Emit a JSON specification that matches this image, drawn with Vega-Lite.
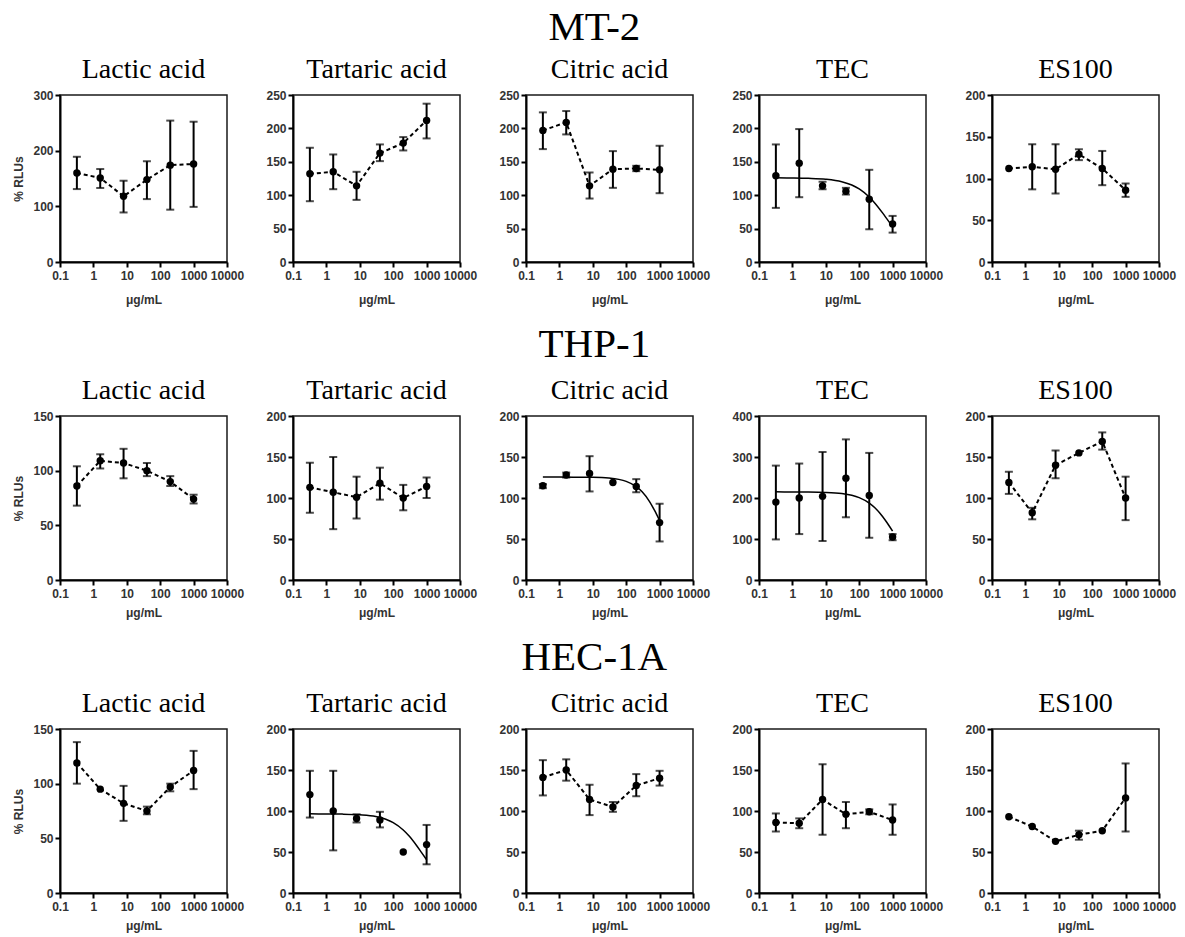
{
  "$schema": "https://vega.github.io/schema/vega-lite/v6.json",
  "padding": {"left": 12, "top": 7, "right": 5, "bottom": 3},
  "background": "white",
  "datasets": {
    "measured": [
      {"cell": "MT-2", "drug": "Lactic acid", "conc": 0.32, "mean": 160, "lo": 131, "hi": 189},
      {"cell": "MT-2", "drug": "Lactic acid", "conc": 1.6, "mean": 151, "lo": 133, "hi": 167},
      {"cell": "MT-2", "drug": "Lactic acid", "conc": 8, "mean": 118, "lo": 89, "hi": 146},
      {"cell": "MT-2", "drug": "Lactic acid", "conc": 40, "mean": 148, "lo": 113, "hi": 181},
      {"cell": "MT-2", "drug": "Lactic acid", "conc": 200, "mean": 174, "lo": 94, "hi": 254},
      {"cell": "MT-2", "drug": "Lactic acid", "conc": 1000, "mean": 176, "lo": 99, "hi": 252},
      {"cell": "MT-2", "drug": "Tartaric acid", "conc": 0.32, "mean": 132, "lo": 91, "hi": 171},
      {"cell": "MT-2", "drug": "Tartaric acid", "conc": 1.6, "mean": 135, "lo": 109, "hi": 161},
      {"cell": "MT-2", "drug": "Tartaric acid", "conc": 8, "mean": 114, "lo": 93, "hi": 135},
      {"cell": "MT-2", "drug": "Tartaric acid", "conc": 40, "mean": 163, "lo": 151, "hi": 176},
      {"cell": "MT-2", "drug": "Tartaric acid", "conc": 200, "mean": 178, "lo": 167, "hi": 187},
      {"cell": "MT-2", "drug": "Tartaric acid", "conc": 1000, "mean": 212, "lo": 185, "hi": 237},
      {"cell": "MT-2", "drug": "Citric acid", "conc": 0.32, "mean": 197, "lo": 169, "hi": 224},
      {"cell": "MT-2", "drug": "Citric acid", "conc": 1.6, "mean": 209, "lo": 191, "hi": 226},
      {"cell": "MT-2", "drug": "Citric acid", "conc": 8, "mean": 114, "lo": 95, "hi": 134},
      {"cell": "MT-2", "drug": "Citric acid", "conc": 40, "mean": 139, "lo": 111, "hi": 166},
      {"cell": "MT-2", "drug": "Citric acid", "conc": 200, "mean": 140, "lo": 136, "hi": 144},
      {"cell": "MT-2", "drug": "Citric acid", "conc": 1000, "mean": 138, "lo": 103, "hi": 174},
      {"cell": "MT-2", "drug": "TEC", "conc": 0.32, "mean": 129, "lo": 81, "hi": 176},
      {"cell": "MT-2", "drug": "TEC", "conc": 1.6, "mean": 148, "lo": 97, "hi": 199},
      {"cell": "MT-2", "drug": "TEC", "conc": 8, "mean": 114, "lo": 109, "hi": 120},
      {"cell": "MT-2", "drug": "TEC", "conc": 40, "mean": 106, "lo": 101, "hi": 111},
      {"cell": "MT-2", "drug": "TEC", "conc": 200, "mean": 94, "lo": 49, "hi": 138},
      {"cell": "MT-2", "drug": "TEC", "conc": 1000, "mean": 57, "lo": 44, "hi": 69},
      {"cell": "MT-2", "drug": "ES100", "conc": 0.32, "mean": 112, "lo": null, "hi": null},
      {"cell": "MT-2", "drug": "ES100", "conc": 1.6, "mean": 114, "lo": 87, "hi": 141},
      {"cell": "MT-2", "drug": "ES100", "conc": 8, "mean": 111, "lo": 82, "hi": 141},
      {"cell": "MT-2", "drug": "ES100", "conc": 40, "mean": 129, "lo": 122, "hi": 135},
      {"cell": "MT-2", "drug": "ES100", "conc": 200, "mean": 112, "lo": 92, "hi": 133},
      {"cell": "MT-2", "drug": "ES100", "conc": 1000, "mean": 86, "lo": 78, "hi": 94},
      {"cell": "THP-1", "drug": "Lactic acid", "conc": 0.32, "mean": 86, "lo": 68, "hi": 104},
      {"cell": "THP-1", "drug": "Lactic acid", "conc": 1.6, "mean": 109, "lo": 102, "hi": 115},
      {"cell": "THP-1", "drug": "Lactic acid", "conc": 8, "mean": 107, "lo": 93, "hi": 120},
      {"cell": "THP-1", "drug": "Lactic acid", "conc": 40, "mean": 100, "lo": 95, "hi": 107},
      {"cell": "THP-1", "drug": "Lactic acid", "conc": 200, "mean": 90, "lo": 86, "hi": 95},
      {"cell": "THP-1", "drug": "Lactic acid", "conc": 1000, "mean": 74, "lo": 70, "hi": 78},
      {"cell": "THP-1", "drug": "Tartaric acid", "conc": 0.32, "mean": 113, "lo": 82, "hi": 143},
      {"cell": "THP-1", "drug": "Tartaric acid", "conc": 1.6, "mean": 107, "lo": 62, "hi": 150},
      {"cell": "THP-1", "drug": "Tartaric acid", "conc": 8, "mean": 101, "lo": 75, "hi": 126},
      {"cell": "THP-1", "drug": "Tartaric acid", "conc": 40, "mean": 118, "lo": 98, "hi": 137},
      {"cell": "THP-1", "drug": "Tartaric acid", "conc": 200, "mean": 100, "lo": 85, "hi": 116},
      {"cell": "THP-1", "drug": "Tartaric acid", "conc": 1000, "mean": 114, "lo": 100, "hi": 125},
      {"cell": "THP-1", "drug": "Citric acid", "conc": 0.32, "mean": 115, "lo": 112, "hi": 117},
      {"cell": "THP-1", "drug": "Citric acid", "conc": 1.6, "mean": 128, "lo": 125, "hi": 131},
      {"cell": "THP-1", "drug": "Citric acid", "conc": 8, "mean": 130, "lo": 108, "hi": 151},
      {"cell": "THP-1", "drug": "Citric acid", "conc": 40, "mean": 119, "lo": null, "hi": null},
      {"cell": "THP-1", "drug": "Citric acid", "conc": 200, "mean": 114, "lo": 107, "hi": 123},
      {"cell": "THP-1", "drug": "Citric acid", "conc": 1000, "mean": 70, "lo": 47, "hi": 93},
      {"cell": "THP-1", "drug": "TEC", "conc": 0.32, "mean": 190, "lo": 99, "hi": 279},
      {"cell": "THP-1", "drug": "TEC", "conc": 1.6, "mean": 200, "lo": 112, "hi": 284},
      {"cell": "THP-1", "drug": "TEC", "conc": 8, "mean": 204, "lo": 95, "hi": 312},
      {"cell": "THP-1", "drug": "TEC", "conc": 40, "mean": 248, "lo": 153, "hi": 343},
      {"cell": "THP-1", "drug": "TEC", "conc": 200, "mean": 206, "lo": 103, "hi": 310},
      {"cell": "THP-1", "drug": "TEC", "conc": 1000, "mean": 105, "lo": 97, "hi": 112},
      {"cell": "THP-1", "drug": "ES100", "conc": 0.32, "mean": 119, "lo": 105, "hi": 132},
      {"cell": "THP-1", "drug": "ES100", "conc": 1.6, "mean": 82, "lo": 74, "hi": 88},
      {"cell": "THP-1", "drug": "ES100", "conc": 8, "mean": 140, "lo": 124, "hi": 158},
      {"cell": "THP-1", "drug": "ES100", "conc": 40, "mean": 155, "lo": null, "hi": null},
      {"cell": "THP-1", "drug": "ES100", "conc": 200, "mean": 169, "lo": 159, "hi": 180},
      {"cell": "THP-1", "drug": "ES100", "conc": 1000, "mean": 100, "lo": 73, "hi": 126},
      {"cell": "HEC-1A", "drug": "Lactic acid", "conc": 0.32, "mean": 119, "lo": 100, "hi": 138},
      {"cell": "HEC-1A", "drug": "Lactic acid", "conc": 1.6, "mean": 95, "lo": null, "hi": null},
      {"cell": "HEC-1A", "drug": "Lactic acid", "conc": 8, "mean": 82, "lo": 66, "hi": 98},
      {"cell": "HEC-1A", "drug": "Lactic acid", "conc": 40, "mean": 75, "lo": 72, "hi": 79},
      {"cell": "HEC-1A", "drug": "Lactic acid", "conc": 200, "mean": 97, "lo": 93, "hi": 100},
      {"cell": "HEC-1A", "drug": "Lactic acid", "conc": 1000, "mean": 112, "lo": 95, "hi": 130},
      {"cell": "HEC-1A", "drug": "Tartaric acid", "conc": 0.32, "mean": 120, "lo": 92, "hi": 149},
      {"cell": "HEC-1A", "drug": "Tartaric acid", "conc": 1.6, "mean": 100, "lo": 52, "hi": 149},
      {"cell": "HEC-1A", "drug": "Tartaric acid", "conc": 8, "mean": 91, "lo": 86, "hi": 96},
      {"cell": "HEC-1A", "drug": "Tartaric acid", "conc": 40, "mean": 89, "lo": 80, "hi": 99},
      {"cell": "HEC-1A", "drug": "Tartaric acid", "conc": 200, "mean": 50, "lo": null, "hi": null},
      {"cell": "HEC-1A", "drug": "Tartaric acid", "conc": 1000, "mean": 59, "lo": 35, "hi": 83},
      {"cell": "HEC-1A", "drug": "Citric acid", "conc": 0.32, "mean": 141, "lo": 119, "hi": 162},
      {"cell": "HEC-1A", "drug": "Citric acid", "conc": 1.6, "mean": 150, "lo": 137, "hi": 163},
      {"cell": "HEC-1A", "drug": "Citric acid", "conc": 8, "mean": 114, "lo": 95, "hi": 132},
      {"cell": "HEC-1A", "drug": "Citric acid", "conc": 40, "mean": 105, "lo": 99, "hi": 111},
      {"cell": "HEC-1A", "drug": "Citric acid", "conc": 200, "mean": 131, "lo": 118, "hi": 145},
      {"cell": "HEC-1A", "drug": "Citric acid", "conc": 1000, "mean": 140, "lo": 131, "hi": 149},
      {"cell": "HEC-1A", "drug": "TEC", "conc": 0.32, "mean": 86, "lo": 75, "hi": 97},
      {"cell": "HEC-1A", "drug": "TEC", "conc": 1.6, "mean": 85, "lo": 79, "hi": 91},
      {"cell": "HEC-1A", "drug": "TEC", "conc": 8, "mean": 114, "lo": 71, "hi": 157},
      {"cell": "HEC-1A", "drug": "TEC", "conc": 40, "mean": 96, "lo": 79, "hi": 111},
      {"cell": "HEC-1A", "drug": "TEC", "conc": 200, "mean": 99, "lo": 96, "hi": 102},
      {"cell": "HEC-1A", "drug": "TEC", "conc": 1000, "mean": 89, "lo": 71, "hi": 108},
      {"cell": "HEC-1A", "drug": "ES100", "conc": 0.32, "mean": 93, "lo": null, "hi": null},
      {"cell": "HEC-1A", "drug": "ES100", "conc": 1.6, "mean": 81, "lo": null, "hi": null},
      {"cell": "HEC-1A", "drug": "ES100", "conc": 8, "mean": 63, "lo": null, "hi": null},
      {"cell": "HEC-1A", "drug": "ES100", "conc": 40, "mean": 71, "lo": 65, "hi": 76},
      {"cell": "HEC-1A", "drug": "ES100", "conc": 200, "mean": 76, "lo": null, "hi": null},
      {"cell": "HEC-1A", "drug": "ES100", "conc": 1000, "mean": 116, "lo": 75, "hi": 158}
    ],
    "fit": [
      {"cell": "MT-2", "drug": "TEC", "conc": 0.32, "fit": 126},
      {"cell": "MT-2", "drug": "TEC", "conc": 1, "fit": 125.8},
      {"cell": "MT-2", "drug": "TEC", "conc": 3, "fit": 125.3},
      {"cell": "MT-2", "drug": "TEC", "conc": 10, "fit": 123.9},
      {"cell": "MT-2", "drug": "TEC", "conc": 30, "fit": 120.2},
      {"cell": "MT-2", "drug": "TEC", "conc": 60, "fit": 115.3},
      {"cell": "MT-2", "drug": "TEC", "conc": 100, "fit": 109.4},
      {"cell": "MT-2", "drug": "TEC", "conc": 200, "fit": 97.2},
      {"cell": "MT-2", "drug": "TEC", "conc": 300, "fit": 87.7},
      {"cell": "MT-2", "drug": "TEC", "conc": 500, "fit": 73.5},
      {"cell": "MT-2", "drug": "TEC", "conc": 700, "fit": 63.4},
      {"cell": "MT-2", "drug": "TEC", "conc": 1000, "fit": 52.7},
      {"cell": "THP-1", "drug": "Citric acid", "conc": 0.32, "fit": 125.5},
      {"cell": "THP-1", "drug": "Citric acid", "conc": 1, "fit": 125.5},
      {"cell": "THP-1", "drug": "Citric acid", "conc": 3, "fit": 125.4},
      {"cell": "THP-1", "drug": "Citric acid", "conc": 10, "fit": 125.2},
      {"cell": "THP-1", "drug": "Citric acid", "conc": 30, "fit": 124.3},
      {"cell": "THP-1", "drug": "Citric acid", "conc": 60, "fit": 122.7},
      {"cell": "THP-1", "drug": "Citric acid", "conc": 100, "fit": 120.3},
      {"cell": "THP-1", "drug": "Citric acid", "conc": 200, "fit": 113.9},
      {"cell": "THP-1", "drug": "Citric acid", "conc": 300, "fit": 107.5},
      {"cell": "THP-1", "drug": "Citric acid", "conc": 500, "fit": 95.6},
      {"cell": "THP-1", "drug": "Citric acid", "conc": 700, "fit": 85.1},
      {"cell": "THP-1", "drug": "Citric acid", "conc": 1000, "fit": 72.4},
      {"cell": "THP-1", "drug": "TEC", "conc": 0.32, "fit": 215},
      {"cell": "THP-1", "drug": "TEC", "conc": 1, "fit": 214.8},
      {"cell": "THP-1", "drug": "TEC", "conc": 3, "fit": 214.6},
      {"cell": "THP-1", "drug": "TEC", "conc": 10, "fit": 213.7},
      {"cell": "THP-1", "drug": "TEC", "conc": 30, "fit": 210.9},
      {"cell": "THP-1", "drug": "TEC", "conc": 60, "fit": 206.6},
      {"cell": "THP-1", "drug": "TEC", "conc": 100, "fit": 200.9},
      {"cell": "THP-1", "drug": "TEC", "conc": 200, "fit": 187.5},
      {"cell": "THP-1", "drug": "TEC", "conc": 300, "fit": 175.5},
      {"cell": "THP-1", "drug": "TEC", "conc": 500, "fit": 155},
      {"cell": "THP-1", "drug": "TEC", "conc": 700, "fit": 138.4},
      {"cell": "THP-1", "drug": "TEC", "conc": 1000, "fit": 119},
      {"cell": "HEC-1A", "drug": "Tartaric acid", "conc": 0.32, "fit": 96.5},
      {"cell": "HEC-1A", "drug": "Tartaric acid", "conc": 1, "fit": 96.4},
      {"cell": "HEC-1A", "drug": "Tartaric acid", "conc": 3, "fit": 96.2},
      {"cell": "HEC-1A", "drug": "Tartaric acid", "conc": 10, "fit": 95.4},
      {"cell": "HEC-1A", "drug": "Tartaric acid", "conc": 30, "fit": 93.3},
      {"cell": "HEC-1A", "drug": "Tartaric acid", "conc": 60, "fit": 90},
      {"cell": "HEC-1A", "drug": "Tartaric acid", "conc": 100, "fit": 85.9},
      {"cell": "HEC-1A", "drug": "Tartaric acid", "conc": 200, "fit": 76.9},
      {"cell": "HEC-1A", "drug": "Tartaric acid", "conc": 300, "fit": 69.5},
      {"cell": "HEC-1A", "drug": "Tartaric acid", "conc": 500, "fit": 58},
      {"cell": "HEC-1A", "drug": "Tartaric acid", "conc": 700, "fit": 49.6},
      {"cell": "HEC-1A", "drug": "Tartaric acid", "conc": 1000, "fit": 40.6}
    ]
  },
  "spacing": 18,
  "vconcat": [
    {
      "title": {"text": "MT-2", "fontSize": 41, "anchor": "middle", "offset": 6},
      "spacing": 20,
      "hconcat": [
        {"title": "Lactic acid", "width": 167, "height": 167, "data": {"name": "measured"},
         "transform": [{"filter": "datum.cell === 'MT-2' && datum.drug === 'Lactic acid'"}],
         "encoding": {"x": {"field": "conc", "type": "quantitative", "scale": {"type": "log", "domain": [0.1, 10000], "nice": false}, "axis": {"values": [0.1, 1, 10, 100, 1000, 10000], "labelExpr": "datum.value < 1 ? '0.1' : format(datum.value, 'd')", "title": "μg/mL", "titlePadding": 13}}},
         "layer": [
          {"mark": {"type": "line", "color": "#000", "strokeWidth": 2, "strokeDash": [4, 3]}, "encoding": {"y": {"field": "mean", "type": "quantitative", "scale": {"domain": [0, 300], "nice": false}, "title": "% RLUs"}}},
          {"mark": {"type": "rule", "color": "#000", "strokeWidth": 2}, "encoding": {"y": {"field": "lo", "type": "quantitative", "scale": {"domain": [0, 300], "nice": false}, "title": "% RLUs"}, "y2": {"field": "hi"}}},
          {"mark": {"type": "tick", "orient": "horizontal", "color": "#000", "size": 8, "thickness": 2}, "encoding": {"y": {"field": "lo", "type": "quantitative", "scale": {"domain": [0, 300], "nice": false}, "title": "% RLUs"}}},
          {"mark": {"type": "tick", "orient": "horizontal", "color": "#000", "size": 8, "thickness": 2}, "encoding": {"y": {"field": "hi", "type": "quantitative", "scale": {"domain": [0, 300], "nice": false}, "title": "% RLUs"}}},
          {"mark": {"type": "circle", "color": "#000", "size": 55, "opacity": 1}, "encoding": {"y": {"field": "mean", "type": "quantitative", "scale": {"domain": [0, 300], "nice": false}, "title": "% RLUs"}}}
         ]},
        {"title": "Tartaric acid", "width": 167, "height": 167, "data": {"name": "measured"},
         "transform": [{"filter": "datum.cell === 'MT-2' && datum.drug === 'Tartaric acid'"}],
         "encoding": {"x": {"field": "conc", "type": "quantitative", "scale": {"type": "log", "domain": [0.1, 10000], "nice": false}, "axis": {"values": [0.1, 1, 10, 100, 1000, 10000], "labelExpr": "datum.value < 1 ? '0.1' : format(datum.value, 'd')", "title": "μg/mL", "titlePadding": 13}}},
         "layer": [
          {"mark": {"type": "line", "color": "#000", "strokeWidth": 2, "strokeDash": [4, 3]}, "encoding": {"y": {"field": "mean", "type": "quantitative", "scale": {"domain": [0, 250], "nice": false}, "title": null}}},
          {"mark": {"type": "rule", "color": "#000", "strokeWidth": 2}, "encoding": {"y": {"field": "lo", "type": "quantitative", "scale": {"domain": [0, 250], "nice": false}, "title": null}, "y2": {"field": "hi"}}},
          {"mark": {"type": "tick", "orient": "horizontal", "color": "#000", "size": 8, "thickness": 2}, "encoding": {"y": {"field": "lo", "type": "quantitative", "scale": {"domain": [0, 250], "nice": false}, "title": null}}},
          {"mark": {"type": "tick", "orient": "horizontal", "color": "#000", "size": 8, "thickness": 2}, "encoding": {"y": {"field": "hi", "type": "quantitative", "scale": {"domain": [0, 250], "nice": false}, "title": null}}},
          {"mark": {"type": "circle", "color": "#000", "size": 55, "opacity": 1}, "encoding": {"y": {"field": "mean", "type": "quantitative", "scale": {"domain": [0, 250], "nice": false}, "title": null}}}
         ]},
        {"title": "Citric acid", "width": 167, "height": 167, "data": {"name": "measured"},
         "transform": [{"filter": "datum.cell === 'MT-2' && datum.drug === 'Citric acid'"}],
         "encoding": {"x": {"field": "conc", "type": "quantitative", "scale": {"type": "log", "domain": [0.1, 10000], "nice": false}, "axis": {"values": [0.1, 1, 10, 100, 1000, 10000], "labelExpr": "datum.value < 1 ? '0.1' : format(datum.value, 'd')", "title": "μg/mL", "titlePadding": 13}}},
         "layer": [
          {"mark": {"type": "line", "color": "#000", "strokeWidth": 2, "strokeDash": [4, 3]}, "encoding": {"y": {"field": "mean", "type": "quantitative", "scale": {"domain": [0, 250], "nice": false}, "title": null}}},
          {"mark": {"type": "rule", "color": "#000", "strokeWidth": 2}, "encoding": {"y": {"field": "lo", "type": "quantitative", "scale": {"domain": [0, 250], "nice": false}, "title": null}, "y2": {"field": "hi"}}},
          {"mark": {"type": "tick", "orient": "horizontal", "color": "#000", "size": 8, "thickness": 2}, "encoding": {"y": {"field": "lo", "type": "quantitative", "scale": {"domain": [0, 250], "nice": false}, "title": null}}},
          {"mark": {"type": "tick", "orient": "horizontal", "color": "#000", "size": 8, "thickness": 2}, "encoding": {"y": {"field": "hi", "type": "quantitative", "scale": {"domain": [0, 250], "nice": false}, "title": null}}},
          {"mark": {"type": "circle", "color": "#000", "size": 55, "opacity": 1}, "encoding": {"y": {"field": "mean", "type": "quantitative", "scale": {"domain": [0, 250], "nice": false}, "title": null}}}
         ]},
        {"title": "TEC", "width": 167, "height": 167, "data": {"name": "measured"},
         "transform": [{"filter": "datum.cell === 'MT-2' && datum.drug === 'TEC'"}],
         "encoding": {"x": {"field": "conc", "type": "quantitative", "scale": {"type": "log", "domain": [0.1, 10000], "nice": false}, "axis": {"values": [0.1, 1, 10, 100, 1000, 10000], "labelExpr": "datum.value < 1 ? '0.1' : format(datum.value, 'd')", "title": "μg/mL", "titlePadding": 13}}},
         "layer": [
          {"data": {"name": "fit"}, "transform": [{"filter": "datum.cell === 'MT-2' && datum.drug === 'TEC'"}], "mark": {"type": "line", "color": "#000", "strokeWidth": 1.5, "interpolate": "monotone"}, "encoding": {"y": {"field": "fit", "type": "quantitative", "scale": {"domain": [0, 250], "nice": false}, "title": null}}},
          {"mark": {"type": "rule", "color": "#000", "strokeWidth": 2}, "encoding": {"y": {"field": "lo", "type": "quantitative", "scale": {"domain": [0, 250], "nice": false}, "title": null}, "y2": {"field": "hi"}}},
          {"mark": {"type": "tick", "orient": "horizontal", "color": "#000", "size": 8, "thickness": 2}, "encoding": {"y": {"field": "lo", "type": "quantitative", "scale": {"domain": [0, 250], "nice": false}, "title": null}}},
          {"mark": {"type": "tick", "orient": "horizontal", "color": "#000", "size": 8, "thickness": 2}, "encoding": {"y": {"field": "hi", "type": "quantitative", "scale": {"domain": [0, 250], "nice": false}, "title": null}}},
          {"mark": {"type": "circle", "color": "#000", "size": 55, "opacity": 1}, "encoding": {"y": {"field": "mean", "type": "quantitative", "scale": {"domain": [0, 250], "nice": false}, "title": null}}}
         ]},
        {"title": "ES100", "width": 167, "height": 167, "data": {"name": "measured"},
         "transform": [{"filter": "datum.cell === 'MT-2' && datum.drug === 'ES100'"}],
         "encoding": {"x": {"field": "conc", "type": "quantitative", "scale": {"type": "log", "domain": [0.1, 10000], "nice": false}, "axis": {"values": [0.1, 1, 10, 100, 1000, 10000], "labelExpr": "datum.value < 1 ? '0.1' : format(datum.value, 'd')", "title": "μg/mL", "titlePadding": 13}}},
         "layer": [
          {"mark": {"type": "line", "color": "#000", "strokeWidth": 2, "strokeDash": [4, 3]}, "encoding": {"y": {"field": "mean", "type": "quantitative", "scale": {"domain": [0, 200], "nice": false}, "title": null}}},
          {"mark": {"type": "rule", "color": "#000", "strokeWidth": 2}, "encoding": {"y": {"field": "lo", "type": "quantitative", "scale": {"domain": [0, 200], "nice": false}, "title": null}, "y2": {"field": "hi"}}},
          {"mark": {"type": "tick", "orient": "horizontal", "color": "#000", "size": 8, "thickness": 2}, "encoding": {"y": {"field": "lo", "type": "quantitative", "scale": {"domain": [0, 200], "nice": false}, "title": null}}},
          {"mark": {"type": "tick", "orient": "horizontal", "color": "#000", "size": 8, "thickness": 2}, "encoding": {"y": {"field": "hi", "type": "quantitative", "scale": {"domain": [0, 200], "nice": false}, "title": null}}},
          {"mark": {"type": "circle", "color": "#000", "size": 55, "opacity": 1}, "encoding": {"y": {"field": "mean", "type": "quantitative", "scale": {"domain": [0, 200], "nice": false}, "title": null}}}
         ]}
      ]
    },
    {
      "title": {"text": "THP-1", "fontSize": 41, "anchor": "middle", "offset": 10},
      "spacing": 20,
      "hconcat": [
        {"title": "Lactic acid", "width": 167, "height": 164, "data": {"name": "measured"},
         "transform": [{"filter": "datum.cell === 'THP-1' && datum.drug === 'Lactic acid'"}],
         "encoding": {"x": {"field": "conc", "type": "quantitative", "scale": {"type": "log", "domain": [0.1, 10000], "nice": false}, "axis": {"values": [0.1, 1, 10, 100, 1000, 10000], "labelExpr": "datum.value < 1 ? '0.1' : format(datum.value, 'd')", "title": "μg/mL"}}},
         "layer": [
          {"mark": {"type": "line", "color": "#000", "strokeWidth": 2, "strokeDash": [4, 3]}, "encoding": {"y": {"field": "mean", "type": "quantitative", "scale": {"domain": [0, 150], "nice": false}, "title": "% RLUs"}}},
          {"mark": {"type": "rule", "color": "#000", "strokeWidth": 2}, "encoding": {"y": {"field": "lo", "type": "quantitative", "scale": {"domain": [0, 150], "nice": false}, "title": "% RLUs"}, "y2": {"field": "hi"}}},
          {"mark": {"type": "tick", "orient": "horizontal", "color": "#000", "size": 8, "thickness": 2}, "encoding": {"y": {"field": "lo", "type": "quantitative", "scale": {"domain": [0, 150], "nice": false}, "title": "% RLUs"}}},
          {"mark": {"type": "tick", "orient": "horizontal", "color": "#000", "size": 8, "thickness": 2}, "encoding": {"y": {"field": "hi", "type": "quantitative", "scale": {"domain": [0, 150], "nice": false}, "title": "% RLUs"}}},
          {"mark": {"type": "circle", "color": "#000", "size": 55, "opacity": 1}, "encoding": {"y": {"field": "mean", "type": "quantitative", "scale": {"domain": [0, 150], "nice": false}, "title": "% RLUs"}}}
         ]},
        {"title": "Tartaric acid", "width": 167, "height": 164, "data": {"name": "measured"},
         "transform": [{"filter": "datum.cell === 'THP-1' && datum.drug === 'Tartaric acid'"}],
         "encoding": {"x": {"field": "conc", "type": "quantitative", "scale": {"type": "log", "domain": [0.1, 10000], "nice": false}, "axis": {"values": [0.1, 1, 10, 100, 1000, 10000], "labelExpr": "datum.value < 1 ? '0.1' : format(datum.value, 'd')", "title": "μg/mL"}}},
         "layer": [
          {"mark": {"type": "line", "color": "#000", "strokeWidth": 2, "strokeDash": [4, 3]}, "encoding": {"y": {"field": "mean", "type": "quantitative", "scale": {"domain": [0, 200], "nice": false}, "title": null}}},
          {"mark": {"type": "rule", "color": "#000", "strokeWidth": 2}, "encoding": {"y": {"field": "lo", "type": "quantitative", "scale": {"domain": [0, 200], "nice": false}, "title": null}, "y2": {"field": "hi"}}},
          {"mark": {"type": "tick", "orient": "horizontal", "color": "#000", "size": 8, "thickness": 2}, "encoding": {"y": {"field": "lo", "type": "quantitative", "scale": {"domain": [0, 200], "nice": false}, "title": null}}},
          {"mark": {"type": "tick", "orient": "horizontal", "color": "#000", "size": 8, "thickness": 2}, "encoding": {"y": {"field": "hi", "type": "quantitative", "scale": {"domain": [0, 200], "nice": false}, "title": null}}},
          {"mark": {"type": "circle", "color": "#000", "size": 55, "opacity": 1}, "encoding": {"y": {"field": "mean", "type": "quantitative", "scale": {"domain": [0, 200], "nice": false}, "title": null}}}
         ]},
        {"title": "Citric acid", "width": 167, "height": 164, "data": {"name": "measured"},
         "transform": [{"filter": "datum.cell === 'THP-1' && datum.drug === 'Citric acid'"}],
         "encoding": {"x": {"field": "conc", "type": "quantitative", "scale": {"type": "log", "domain": [0.1, 10000], "nice": false}, "axis": {"values": [0.1, 1, 10, 100, 1000, 10000], "labelExpr": "datum.value < 1 ? '0.1' : format(datum.value, 'd')", "title": "μg/mL"}}},
         "layer": [
          {"data": {"name": "fit"}, "transform": [{"filter": "datum.cell === 'THP-1' && datum.drug === 'Citric acid'"}], "mark": {"type": "line", "color": "#000", "strokeWidth": 1.5, "interpolate": "monotone"}, "encoding": {"y": {"field": "fit", "type": "quantitative", "scale": {"domain": [0, 200], "nice": false}, "title": null}}},
          {"mark": {"type": "rule", "color": "#000", "strokeWidth": 2}, "encoding": {"y": {"field": "lo", "type": "quantitative", "scale": {"domain": [0, 200], "nice": false}, "title": null}, "y2": {"field": "hi"}}},
          {"mark": {"type": "tick", "orient": "horizontal", "color": "#000", "size": 8, "thickness": 2}, "encoding": {"y": {"field": "lo", "type": "quantitative", "scale": {"domain": [0, 200], "nice": false}, "title": null}}},
          {"mark": {"type": "tick", "orient": "horizontal", "color": "#000", "size": 8, "thickness": 2}, "encoding": {"y": {"field": "hi", "type": "quantitative", "scale": {"domain": [0, 200], "nice": false}, "title": null}}},
          {"mark": {"type": "circle", "color": "#000", "size": 55, "opacity": 1}, "encoding": {"y": {"field": "mean", "type": "quantitative", "scale": {"domain": [0, 200], "nice": false}, "title": null}}}
         ]},
        {"title": "TEC", "width": 167, "height": 164, "data": {"name": "measured"},
         "transform": [{"filter": "datum.cell === 'THP-1' && datum.drug === 'TEC'"}],
         "encoding": {"x": {"field": "conc", "type": "quantitative", "scale": {"type": "log", "domain": [0.1, 10000], "nice": false}, "axis": {"values": [0.1, 1, 10, 100, 1000, 10000], "labelExpr": "datum.value < 1 ? '0.1' : format(datum.value, 'd')", "title": "μg/mL"}}},
         "layer": [
          {"data": {"name": "fit"}, "transform": [{"filter": "datum.cell === 'THP-1' && datum.drug === 'TEC'"}], "mark": {"type": "line", "color": "#000", "strokeWidth": 1.5, "interpolate": "monotone"}, "encoding": {"y": {"field": "fit", "type": "quantitative", "scale": {"domain": [0, 400], "nice": false}, "title": null}}},
          {"mark": {"type": "rule", "color": "#000", "strokeWidth": 2}, "encoding": {"y": {"field": "lo", "type": "quantitative", "scale": {"domain": [0, 400], "nice": false}, "title": null}, "y2": {"field": "hi"}}},
          {"mark": {"type": "tick", "orient": "horizontal", "color": "#000", "size": 8, "thickness": 2}, "encoding": {"y": {"field": "lo", "type": "quantitative", "scale": {"domain": [0, 400], "nice": false}, "title": null}}},
          {"mark": {"type": "tick", "orient": "horizontal", "color": "#000", "size": 8, "thickness": 2}, "encoding": {"y": {"field": "hi", "type": "quantitative", "scale": {"domain": [0, 400], "nice": false}, "title": null}}},
          {"mark": {"type": "circle", "color": "#000", "size": 55, "opacity": 1}, "encoding": {"y": {"field": "mean", "type": "quantitative", "scale": {"domain": [0, 400], "nice": false}, "title": null}}}
         ]},
        {"title": "ES100", "width": 167, "height": 164, "data": {"name": "measured"},
         "transform": [{"filter": "datum.cell === 'THP-1' && datum.drug === 'ES100'"}],
         "encoding": {"x": {"field": "conc", "type": "quantitative", "scale": {"type": "log", "domain": [0.1, 10000], "nice": false}, "axis": {"values": [0.1, 1, 10, 100, 1000, 10000], "labelExpr": "datum.value < 1 ? '0.1' : format(datum.value, 'd')", "title": "μg/mL"}}},
         "layer": [
          {"mark": {"type": "line", "color": "#000", "strokeWidth": 2, "strokeDash": [4, 3]}, "encoding": {"y": {"field": "mean", "type": "quantitative", "scale": {"domain": [0, 200], "nice": false}, "title": null}}},
          {"mark": {"type": "rule", "color": "#000", "strokeWidth": 2}, "encoding": {"y": {"field": "lo", "type": "quantitative", "scale": {"domain": [0, 200], "nice": false}, "title": null}, "y2": {"field": "hi"}}},
          {"mark": {"type": "tick", "orient": "horizontal", "color": "#000", "size": 8, "thickness": 2}, "encoding": {"y": {"field": "lo", "type": "quantitative", "scale": {"domain": [0, 200], "nice": false}, "title": null}}},
          {"mark": {"type": "tick", "orient": "horizontal", "color": "#000", "size": 8, "thickness": 2}, "encoding": {"y": {"field": "hi", "type": "quantitative", "scale": {"domain": [0, 200], "nice": false}, "title": null}}},
          {"mark": {"type": "circle", "color": "#000", "size": 55, "opacity": 1}, "encoding": {"y": {"field": "mean", "type": "quantitative", "scale": {"domain": [0, 200], "nice": false}, "title": null}}}
         ]}
      ]
    },
    {
      "title": {"text": "HEC-1A", "fontSize": 41, "anchor": "middle", "offset": 10},
      "spacing": 20,
      "hconcat": [
        {"title": "Lactic acid", "width": 167, "height": 164, "data": {"name": "measured"},
         "transform": [{"filter": "datum.cell === 'HEC-1A' && datum.drug === 'Lactic acid'"}],
         "encoding": {"x": {"field": "conc", "type": "quantitative", "scale": {"type": "log", "domain": [0.1, 10000], "nice": false}, "axis": {"values": [0.1, 1, 10, 100, 1000, 10000], "labelExpr": "datum.value < 1 ? '0.1' : format(datum.value, 'd')", "title": "μg/mL"}}},
         "layer": [
          {"mark": {"type": "line", "color": "#000", "strokeWidth": 2, "strokeDash": [4, 3]}, "encoding": {"y": {"field": "mean", "type": "quantitative", "scale": {"domain": [0, 150], "nice": false}, "title": "% RLUs"}}},
          {"mark": {"type": "rule", "color": "#000", "strokeWidth": 2}, "encoding": {"y": {"field": "lo", "type": "quantitative", "scale": {"domain": [0, 150], "nice": false}, "title": "% RLUs"}, "y2": {"field": "hi"}}},
          {"mark": {"type": "tick", "orient": "horizontal", "color": "#000", "size": 8, "thickness": 2}, "encoding": {"y": {"field": "lo", "type": "quantitative", "scale": {"domain": [0, 150], "nice": false}, "title": "% RLUs"}}},
          {"mark": {"type": "tick", "orient": "horizontal", "color": "#000", "size": 8, "thickness": 2}, "encoding": {"y": {"field": "hi", "type": "quantitative", "scale": {"domain": [0, 150], "nice": false}, "title": "% RLUs"}}},
          {"mark": {"type": "circle", "color": "#000", "size": 55, "opacity": 1}, "encoding": {"y": {"field": "mean", "type": "quantitative", "scale": {"domain": [0, 150], "nice": false}, "title": "% RLUs"}}}
         ]},
        {"title": "Tartaric acid", "width": 167, "height": 164, "data": {"name": "measured"},
         "transform": [{"filter": "datum.cell === 'HEC-1A' && datum.drug === 'Tartaric acid'"}],
         "encoding": {"x": {"field": "conc", "type": "quantitative", "scale": {"type": "log", "domain": [0.1, 10000], "nice": false}, "axis": {"values": [0.1, 1, 10, 100, 1000, 10000], "labelExpr": "datum.value < 1 ? '0.1' : format(datum.value, 'd')", "title": "μg/mL"}}},
         "layer": [
          {"data": {"name": "fit"}, "transform": [{"filter": "datum.cell === 'HEC-1A' && datum.drug === 'Tartaric acid'"}], "mark": {"type": "line", "color": "#000", "strokeWidth": 1.5, "interpolate": "monotone"}, "encoding": {"y": {"field": "fit", "type": "quantitative", "scale": {"domain": [0, 200], "nice": false}, "title": null}}},
          {"mark": {"type": "rule", "color": "#000", "strokeWidth": 2}, "encoding": {"y": {"field": "lo", "type": "quantitative", "scale": {"domain": [0, 200], "nice": false}, "title": null}, "y2": {"field": "hi"}}},
          {"mark": {"type": "tick", "orient": "horizontal", "color": "#000", "size": 8, "thickness": 2}, "encoding": {"y": {"field": "lo", "type": "quantitative", "scale": {"domain": [0, 200], "nice": false}, "title": null}}},
          {"mark": {"type": "tick", "orient": "horizontal", "color": "#000", "size": 8, "thickness": 2}, "encoding": {"y": {"field": "hi", "type": "quantitative", "scale": {"domain": [0, 200], "nice": false}, "title": null}}},
          {"mark": {"type": "circle", "color": "#000", "size": 55, "opacity": 1}, "encoding": {"y": {"field": "mean", "type": "quantitative", "scale": {"domain": [0, 200], "nice": false}, "title": null}}}
         ]},
        {"title": "Citric acid", "width": 167, "height": 164, "data": {"name": "measured"},
         "transform": [{"filter": "datum.cell === 'HEC-1A' && datum.drug === 'Citric acid'"}],
         "encoding": {"x": {"field": "conc", "type": "quantitative", "scale": {"type": "log", "domain": [0.1, 10000], "nice": false}, "axis": {"values": [0.1, 1, 10, 100, 1000, 10000], "labelExpr": "datum.value < 1 ? '0.1' : format(datum.value, 'd')", "title": "μg/mL"}}},
         "layer": [
          {"mark": {"type": "line", "color": "#000", "strokeWidth": 2, "strokeDash": [4, 3]}, "encoding": {"y": {"field": "mean", "type": "quantitative", "scale": {"domain": [0, 200], "nice": false}, "title": null}}},
          {"mark": {"type": "rule", "color": "#000", "strokeWidth": 2}, "encoding": {"y": {"field": "lo", "type": "quantitative", "scale": {"domain": [0, 200], "nice": false}, "title": null}, "y2": {"field": "hi"}}},
          {"mark": {"type": "tick", "orient": "horizontal", "color": "#000", "size": 8, "thickness": 2}, "encoding": {"y": {"field": "lo", "type": "quantitative", "scale": {"domain": [0, 200], "nice": false}, "title": null}}},
          {"mark": {"type": "tick", "orient": "horizontal", "color": "#000", "size": 8, "thickness": 2}, "encoding": {"y": {"field": "hi", "type": "quantitative", "scale": {"domain": [0, 200], "nice": false}, "title": null}}},
          {"mark": {"type": "circle", "color": "#000", "size": 55, "opacity": 1}, "encoding": {"y": {"field": "mean", "type": "quantitative", "scale": {"domain": [0, 200], "nice": false}, "title": null}}}
         ]},
        {"title": "TEC", "width": 167, "height": 164, "data": {"name": "measured"},
         "transform": [{"filter": "datum.cell === 'HEC-1A' && datum.drug === 'TEC'"}],
         "encoding": {"x": {"field": "conc", "type": "quantitative", "scale": {"type": "log", "domain": [0.1, 10000], "nice": false}, "axis": {"values": [0.1, 1, 10, 100, 1000, 10000], "labelExpr": "datum.value < 1 ? '0.1' : format(datum.value, 'd')", "title": "μg/mL"}}},
         "layer": [
          {"mark": {"type": "line", "color": "#000", "strokeWidth": 2, "strokeDash": [4, 3]}, "encoding": {"y": {"field": "mean", "type": "quantitative", "scale": {"domain": [0, 200], "nice": false}, "title": null}}},
          {"mark": {"type": "rule", "color": "#000", "strokeWidth": 2}, "encoding": {"y": {"field": "lo", "type": "quantitative", "scale": {"domain": [0, 200], "nice": false}, "title": null}, "y2": {"field": "hi"}}},
          {"mark": {"type": "tick", "orient": "horizontal", "color": "#000", "size": 8, "thickness": 2}, "encoding": {"y": {"field": "lo", "type": "quantitative", "scale": {"domain": [0, 200], "nice": false}, "title": null}}},
          {"mark": {"type": "tick", "orient": "horizontal", "color": "#000", "size": 8, "thickness": 2}, "encoding": {"y": {"field": "hi", "type": "quantitative", "scale": {"domain": [0, 200], "nice": false}, "title": null}}},
          {"mark": {"type": "circle", "color": "#000", "size": 55, "opacity": 1}, "encoding": {"y": {"field": "mean", "type": "quantitative", "scale": {"domain": [0, 200], "nice": false}, "title": null}}}
         ]},
        {"title": "ES100", "width": 167, "height": 164, "data": {"name": "measured"},
         "transform": [{"filter": "datum.cell === 'HEC-1A' && datum.drug === 'ES100'"}],
         "encoding": {"x": {"field": "conc", "type": "quantitative", "scale": {"type": "log", "domain": [0.1, 10000], "nice": false}, "axis": {"values": [0.1, 1, 10, 100, 1000, 10000], "labelExpr": "datum.value < 1 ? '0.1' : format(datum.value, 'd')", "title": "μg/mL"}}},
         "layer": [
          {"mark": {"type": "line", "color": "#000", "strokeWidth": 2, "strokeDash": [4, 3]}, "encoding": {"y": {"field": "mean", "type": "quantitative", "scale": {"domain": [0, 200], "nice": false}, "title": null}}},
          {"mark": {"type": "rule", "color": "#000", "strokeWidth": 2}, "encoding": {"y": {"field": "lo", "type": "quantitative", "scale": {"domain": [0, 200], "nice": false}, "title": null}, "y2": {"field": "hi"}}},
          {"mark": {"type": "tick", "orient": "horizontal", "color": "#000", "size": 8, "thickness": 2}, "encoding": {"y": {"field": "lo", "type": "quantitative", "scale": {"domain": [0, 200], "nice": false}, "title": null}}},
          {"mark": {"type": "tick", "orient": "horizontal", "color": "#000", "size": 8, "thickness": 2}, "encoding": {"y": {"field": "hi", "type": "quantitative", "scale": {"domain": [0, 200], "nice": false}, "title": null}}},
          {"mark": {"type": "circle", "color": "#000", "size": 55, "opacity": 1}, "encoding": {"y": {"field": "mean", "type": "quantitative", "scale": {"domain": [0, 200], "nice": false}, "title": null}}}
         ]}
      ]
    }
  ],
  "config": {
    "view": {"stroke": "#1a1a1a", "strokeWidth": 1.5},
    "axis": {"grid": false, "domainColor": "#000", "domainWidth": 2, "tickColor": "#000", "tickWidth": 2, "tickSize": 5, "labelFont": "Liberation Sans", "labelFontSize": 12, "labelFontWeight": "bold", "labelColor": "#333", "titleFont": "Liberation Sans", "titleFontSize": 12, "titleFontWeight": "bold", "titleColor": "#333"},
    "axisX": {"labelPadding": 3, "labelFlush": false, "labelOverlap": false, "titlePadding": 8},
    "axisY": {"tickCount": 4, "labelPadding": 2, "titlePadding": 7},
    "title": {"font": "Liberation Serif", "fontSize": 28, "fontWeight": "normal", "color": "#000", "offset": 5},
    "mark": {"invalid": "filter"}
  }
}
